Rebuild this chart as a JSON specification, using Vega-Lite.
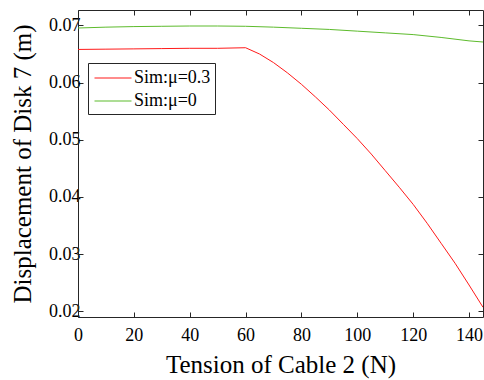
{
  "$schema": "https://vega.github.io/schema/vega-lite/v6.json",
  "width": 405,
  "height": 307,
  "autosize": {"type": "none"},
  "padding": {"left": 78, "top": 10, "right": 1, "bottom": 63},
  "background": "white",
  "config": {
    "font": "Liberation Serif",
    "view": {"stroke": null},
    "axis": {
      "domainColor": "#262626",
      "tickColor": "#262626",
      "grid": false,
      "tickSize": -5,
      "domainWidth": 1,
      "tickWidth": 1
    },
    "legend": {"labelFont": "Liberation Serif", "labelFontSize": 18}
  },
  "data": {
    "values": [
      {"t": 0, "d": 0.0658, "s": "Sim:μ=0.3"},
      {"t": 10, "d": 0.06585, "s": "Sim:μ=0.3"},
      {"t": 20, "d": 0.0659, "s": "Sim:μ=0.3"},
      {"t": 30, "d": 0.06595, "s": "Sim:μ=0.3"},
      {"t": 40, "d": 0.0660, "s": "Sim:μ=0.3"},
      {"t": 50, "d": 0.0660, "s": "Sim:μ=0.3"},
      {"t": 60, "d": 0.0661, "s": "Sim:μ=0.3"},
      {"t": 65, "d": 0.0650, "s": "Sim:μ=0.3"},
      {"t": 70, "d": 0.0635, "s": "Sim:μ=0.3"},
      {"t": 75, "d": 0.0617, "s": "Sim:μ=0.3"},
      {"t": 80, "d": 0.0597, "s": "Sim:μ=0.3"},
      {"t": 85, "d": 0.0575, "s": "Sim:μ=0.3"},
      {"t": 90, "d": 0.0552, "s": "Sim:μ=0.3"},
      {"t": 95, "d": 0.0527, "s": "Sim:μ=0.3"},
      {"t": 100, "d": 0.0502, "s": "Sim:μ=0.3"},
      {"t": 105, "d": 0.0475, "s": "Sim:μ=0.3"},
      {"t": 110, "d": 0.0446, "s": "Sim:μ=0.3"},
      {"t": 115, "d": 0.0417, "s": "Sim:μ=0.3"},
      {"t": 120, "d": 0.0387, "s": "Sim:μ=0.3"},
      {"t": 125, "d": 0.0354, "s": "Sim:μ=0.3"},
      {"t": 130, "d": 0.0319, "s": "Sim:μ=0.3"},
      {"t": 135, "d": 0.0284, "s": "Sim:μ=0.3"},
      {"t": 140, "d": 0.0246, "s": "Sim:μ=0.3"},
      {"t": 145, "d": 0.0207, "s": "Sim:μ=0.3"},
      {"t": 0, "d": 0.06955, "s": "Sim:μ=0"},
      {"t": 10, "d": 0.0697, "s": "Sim:μ=0"},
      {"t": 20, "d": 0.0698, "s": "Sim:μ=0"},
      {"t": 30, "d": 0.06985, "s": "Sim:μ=0"},
      {"t": 40, "d": 0.0699, "s": "Sim:μ=0"},
      {"t": 50, "d": 0.0699, "s": "Sim:μ=0"},
      {"t": 60, "d": 0.06985, "s": "Sim:μ=0"},
      {"t": 70, "d": 0.0697, "s": "Sim:μ=0"},
      {"t": 80, "d": 0.0695, "s": "Sim:μ=0"},
      {"t": 90, "d": 0.0693, "s": "Sim:μ=0"},
      {"t": 100, "d": 0.0690, "s": "Sim:μ=0"},
      {"t": 110, "d": 0.0687, "s": "Sim:μ=0"},
      {"t": 120, "d": 0.0684, "s": "Sim:μ=0"},
      {"t": 130, "d": 0.0679, "s": "Sim:μ=0"},
      {"t": 140, "d": 0.0673, "s": "Sim:μ=0"},
      {"t": 145, "d": 0.0671, "s": "Sim:μ=0"}
    ]
  },
  "resolve": {"axis": {"x": "independent", "y": "independent"}},
  "layer": [
    {
      "mark": {"type": "line", "strokeWidth": 1, "clip": true},
      "encoding": {
        "x": {
          "field": "t", "type": "quantitative",
          "scale": {"domain": [0, 145], "nice": false, "zero": false},
          "axis": {
            "title": "Tension of Cable 2 (N)", "values": [0, 20, 40, 60, 80, 100, 120, 140],
            "labelFont": "Liberation Serif", "labelFontSize": 18, "labelColor": "#000000",
            "titleFont": "Liberation Serif", "titleFontSize": 25, "titleFontWeight": "normal", "titleColor": "#000000",
            "labelPadding": 14, "titlePadding": 8, "labelFlush": false
          }
        },
        "y": {
          "field": "d", "type": "quantitative",
          "scale": {"domain": [0.019, 0.0727], "nice": false, "zero": false},
          "axis": {
            "title": "Displacement of Disk 7 (m)", "values": [0.02, 0.03, 0.04, 0.05, 0.06, 0.07], "format": ".2f",
            "labelFont": "Liberation Serif", "labelFontSize": 18, "labelColor": "#000000",
            "titleFont": "Liberation Serif", "titleFontSize": 25, "titleFontWeight": "normal", "titleColor": "#000000",
            "labelPadding": 3, "titlePadding": 13, "labelFlush": false
          }
        },
        "color": {
          "field": "s", "type": "nominal",
          "scale": {"domain": ["Sim:μ=0.3", "Sim:μ=0"], "range": ["#FF1A1A", "#5DBB2C"]},
          "legend": {
            "title": null,
            "orient": "none",
            "legendX": 10,
            "legendY": 53,
            "direction": "vertical",
            "symbolType": "M-1.85,0H1.85",
            "symbolSize": 400,
            "symbolStrokeWidth": 1.2,
            "labelFont": "Liberation Serif",
            "labelFontSize": 18,
            "labelColor": "#000000",
            "labelLimit": 200,
            "strokeColor": "#262626",
            "fillColor": "white",
            "padding": 4,
            "rowPadding": 3,
            "labelOffset": 10,
            "symbolOffset": 10,
            "encode": {"labels": {"update": {"font": {"value": "Liberation Serif"}, "fontSize": {"value": 18}}}}
          }
        }
      }
    },
    {
      "mark": {"type": "line", "opacity": 0},
      "encoding": {
        "x": {
          "field": "t", "type": "quantitative",
          "scale": {"domain": [0, 145], "nice": false, "zero": false},
          "axis": {"orient": "top", "title": null, "labels": false, "values": [0, 20, 40, 60, 80, 100, 120, 140]}
        },
        "y": {
          "field": "d", "type": "quantitative",
          "scale": {"domain": [0.019, 0.0727], "nice": false, "zero": false},
          "axis": {"orient": "right", "title": null, "labels": false, "values": [0.02, 0.03, 0.04, 0.05, 0.06, 0.07]}
        },
        "detail": {"field": "s", "type": "nominal"}
      }
    }
  ]
}
